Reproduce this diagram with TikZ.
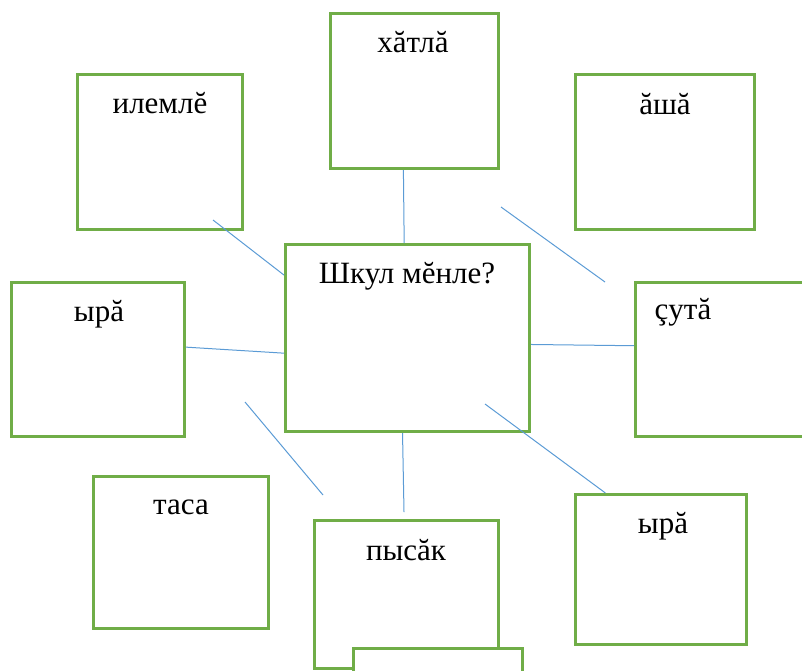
\documentclass[tikz,border=0pt]{standalone}
\usepackage{fontspec}
\setmainfont{Liberation Serif}
\usepackage{xcolor}
\usepackage{tikz}
\usetikzlibrary{positioning}

\definecolor{boxgreen}{HTML}{70AD47}
\definecolor{linkblue}{HTML}{5B9BD5}

\begin{document}
\begin{tikzpicture}
            [
                x=1pt,y=-1pt,
                box/.style={draw=boxgreen,line width=3pt,inner sep=0pt},
                word/.style={font=\fontsize{31}{37}\selectfont,anchor=base,inner sep=0pt},
                link/.style={draw=linkblue,line width=1pt}
            ]
            
            \useasboundingbox (0,0) rectangle (802,670);
            \clip (0,0) rectangle (802,670);
            
            % boxes
            \node[box,minimum width=168pt,minimum height=155pt] (hatla) at (414.5,91) {};
            \node[box,minimum width=165pt,minimum height=155pt] (ilemle) at (160,152) {};
            \node[box,minimum width=179pt,minimum height=155pt] (asha) at (665,152) {};
            \node[box,minimum width=244pt,minimum height=187pt] (shkul) at (407.5,338) {};
            \node[box,minimum width=173pt,minimum height=154pt] (yraleft) at (98,359.5) {};
            \node[box,minimum width=171pt,minimum height=154pt] (syta) at (721,359.5) {};
            \node[box,minimum width=175pt,minimum height=152pt] (tasa) at (181,552.5) {};
            \node[box,minimum width=184pt,minimum height=148pt] (pysak) at (406.5,594.5) {};
            \node[box,minimum width=171pt,minimum height=150pt] (yraright) at (661,569.5) {};
            \node[box,fill=white,minimum width=169pt,minimum height=160pt] (cover) at (438,728.5) {};
            
            % words
            \node[word] (hatla-w) at (413,52) {хăтлă};
            \node[word] (ilemle-w) at (160,113) {илемлĕ};
            \node[word] (asha-w) at (665,114) {ăшă};
            \node[word] (shkul-w) at (407,283) {Шкул мĕнле?};
            \node[word] (yraleft-w) at (99,321) {ырă};
            \node[word] (syta-w) at (683,319) {çутă};
            \node[word] (tasa-w) at (181,514) {таса};
            \node[word] (pysak-w) at (406,560) {пысăк};
            \node[word] (yraright-w) at (663,533) {ырă};
            
            % loose ends
            \coordinate (ilemle-tip) at (213,220);
            \coordinate (asha-tip) at (501,207);
            \coordinate (syta-tip) at (605,282);
            \coordinate (inner-tip) at (485,404);
            \coordinate (tasa-tip) at (245,402);
            \coordinate (pysak-tip) at (323,495);
            \coordinate (bottom-tip) at (404,512);
            
            % links
            \draw[link] (hatla.262.3) -- (shkul.92.1);
            \draw[link] (ilemle-tip) -- (shkul.153.4);
            \draw[link] (yraleft.8.9) -- (shkul.187.9);
            \draw[link] (asha-tip) -- (syta-tip);
            \draw[link] (shkul.-3.75) -- (syta.171);
            \draw[link] (inner-tip) -- (yraright.126.75);
            \draw[link] (tasa-tip) -- (pysak-tip);
            \draw[link] (shkul.267.9) -- (bottom-tip);
        \end{tikzpicture}
\end{document}
